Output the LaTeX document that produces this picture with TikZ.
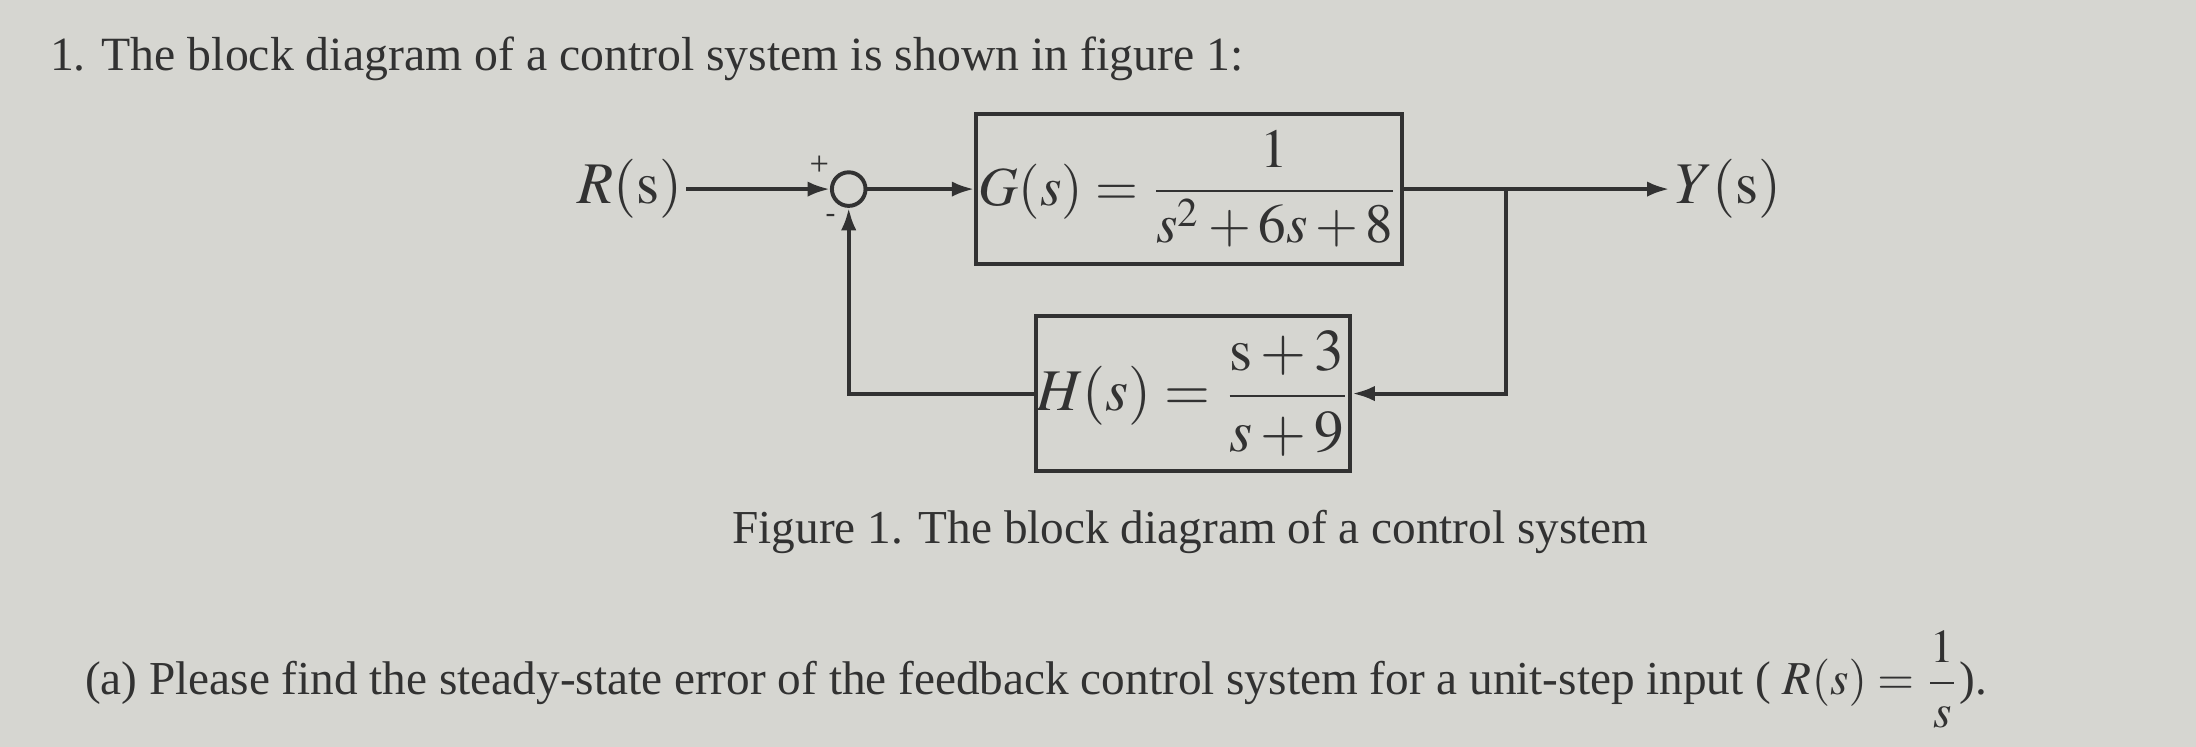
\documentclass[tikz,border=0pt]{standalone}
\usepackage{amsmath}
\usepackage{mathptmx}
\usepackage[no-math]{fontspec}
\setmainfont{Liberation Serif}
\usetikzlibrary{arrows.meta}
\definecolor{paper}{RGB}{214,214,209}
\definecolor{ink}{RGB}{50,50,50}

\begin{document}
\begin{tikzpicture}[
    every node/.style={text=ink},
    blk/.style={draw=ink, line width=0.8pt, inner sep=0pt},
    sig/.style={draw=ink, line width=0.8pt, -{Latex[length=1.6mm,width=1.1mm]}},
    lbl/.style={font=\fontsize{12}{14}\selectfont},
    txt/.style={font=\fontsize{9.7}{12}\selectfont, inner sep=0pt}]
        \fill[paper] (0,0) rectangle (15.68,-5.33);  % page
        \node[txt, anchor=base west](title) at (0.35,-0.50) {1. The block diagram of a control system is shown in figure 1:};
        \node[lbl, inner sep=0.5pt](R) at (4.50,-1.35) {$R(\mathrm{s})$};
        \node[circle, draw=ink, line width=0.8pt, minimum size=0.24cm, inner sep=0pt](sum) at (6.06,-1.35) {};
        \node[font=\fontsize{7}{8}\selectfont](plus) at (5.85,-1.18) {+};
        \node[font=\fontsize{6}{7}\selectfont](minus) at (5.93,-1.56) {-};
        \node[blk, font=\fontsize{11.2}{13}\selectfont, minimum width=3.04cm, minimum height=1.07cm](G) at (8.49,-1.35) {$G(s)=\dfrac{1}{s^{2}+6s+8}$};  % plant
        \coordinate (split) at (10.75,-1.35);
        \node[lbl, anchor=west, inner sep=1pt](Y) at (11.92,-1.35) {$Y(\mathrm{s})$};
        \node[blk, lbl, minimum width=2.22cm, minimum height=1.11cm](H) at (8.52,-2.81) {$H(s)=\dfrac{\mathrm{s}+3}{s+9}$};  % feedback
        \coordinate (hr) at (10.75,-2.81);
        \coordinate (hl) at (6.06,-2.81);
        \draw[sig] (R) -- (sum);
        \draw[sig] (sum) -- (G);
        \draw[sig] (G) -- (Y);
        \draw[sig] (split) -- (hr) -- (H);
        \draw[sig] (H) -- (hl) -- (sum);
        \node[txt, anchor=base, font=\fontsize{9.6}{12}\selectfont](cap) at (8.50,-3.88) {Figure 1. The block diagram of a control system};
        \node[txt, anchor=base west, font=\fontsize{9.6}{12}\selectfont](qa) at (0.60,-4.96) {(a) Please find the steady-state error of the feedback control system for a unit-step input (~$R(s)=\dfrac{1}{s}$).};

    \end{tikzpicture}
\end{document}
